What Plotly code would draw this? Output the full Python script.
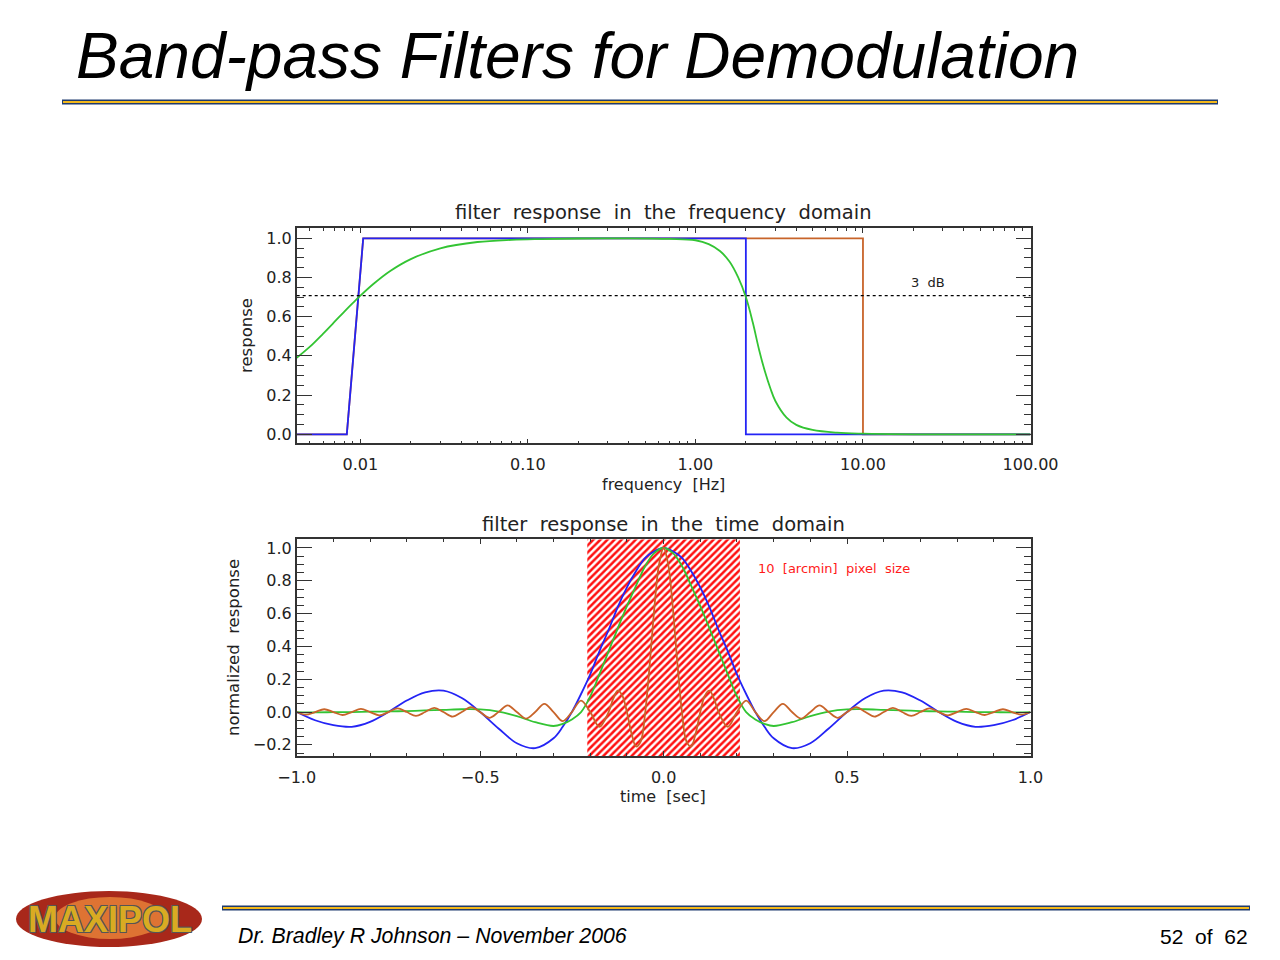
import plotly.graph_objects as go

W, H = 1280, 960

# ---------------- data: frequency domain ----------------
freq_blue = [0.00417, 0.0083, 0.0104, 2.0, 2.0, 100.0]
resp_blue = [0.0, 0.0, 1.0, 1.0, 0.0, 0.0]

freq_orange = [0.00417, 0.0083, 0.0104, 10.0, 10.0, 100.0]
resp_orange = [0.0, 0.0, 1.0, 1.0, 0.0, 0.0]

freq_green = [0.00417, 0.005, 0.006, 0.007, 0.008, 0.009, 0.01, 0.012, 0.015, 0.02,
              0.03, 0.05, 0.08, 0.12, 0.2, 0.4, 0.7, 1.0, 1.2, 1.4, 1.6, 1.8,
              2.0, 2.2, 2.4, 2.6, 2.8, 3.0, 3.5, 4.0, 5.0, 7.0, 10.0, 20.0, 100.0]
resp_green = [0.39, 0.447, 0.514, 0.573, 0.625, 0.669, 0.707, 0.768, 0.832, 0.894,
              0.949, 0.981, 0.992, 0.996, 0.999, 1.0, 0.997, 0.99, 0.97, 0.935, 0.88, 0.80,
              0.70, 0.57, 0.43, 0.32, 0.235, 0.17, 0.085, 0.048, 0.022, 0.008, 0.003, 0.0, 0.0]

level_3db = 0.707

freq_tickvals = [0.01, 0.1, 1, 10, 100]
freq_ticktext = ["0.01", "0.10", "1.00", "10.00", "100.00"]
freq_minor = [0.005, 0.006, 0.007, 0.008, 0.009,
              0.02, 0.03, 0.04, 0.05, 0.06, 0.07, 0.08, 0.09,
              0.2, 0.3, 0.4, 0.5, 0.6, 0.7, 0.8, 0.9,
              2, 3, 4, 5, 6, 7, 8, 9,
              20, 30, 40, 50, 60, 70, 80, 90]

# ---------------- data: time domain ----------------
time_bg = [-1.0, -0.95, -0.9, -0.85, -0.8, -0.75, -0.7, -0.65, -0.6, -0.55, -0.5,
           -0.45, -0.4, -0.35, -0.3, -0.275, -0.25, -0.225, -0.2, -0.175, -0.15,
           -0.125, -0.1, -0.075, -0.05, -0.025, 0.0, 0.025, 0.05, 0.075, 0.1,
           0.125, 0.15, 0.175, 0.2, 0.225, 0.25, 0.275, 0.3, 0.35, 0.4, 0.45,
           0.5, 0.55, 0.6, 0.65, 0.7, 0.75, 0.8, 0.85, 0.9, 0.95, 1.0]
blue_t = [0.0, -0.05, -0.08, -0.09, -0.06, 0.0, 0.07, 0.12, 0.13, 0.085, 0.0,
          -0.10, -0.19, -0.22, -0.16, -0.09, 0.0, 0.11, 0.23, 0.37, 0.50,
          0.64, 0.76, 0.86, 0.94, 0.98, 1.0, 0.98, 0.94, 0.86, 0.76,
          0.64, 0.50, 0.37, 0.23, 0.11, 0.0, -0.09, -0.16, -0.22, -0.19, -0.10,
          0.0, 0.085, 0.13, 0.12, 0.07, 0.0, -0.06, -0.09, -0.08, -0.05, 0.0]
green_t = [0.0, -0.002, -0.001, 0.0, 0.002, 0.004, 0.006, 0.01, 0.013, 0.017, 0.016,
           0.003, -0.025, -0.062, -0.085, -0.072, -0.045, 0.0, 0.095, 0.23, 0.37,
           0.51, 0.645, 0.77, 0.89, 0.97, 1.0, 0.97, 0.89, 0.77, 0.645,
           0.51, 0.37, 0.23, 0.095, 0.0, -0.045, -0.072, -0.085, -0.062, -0.025, 0.003,
           0.016, 0.017, 0.013, 0.01, 0.006, 0.004, 0.002, 0.0, -0.001, -0.002, 0.0]

time_or = [-1.0, -0.975, -0.95, -0.925, -0.9, -0.875, -0.85, -0.825, -0.8, -0.775,
           -0.75, -0.725, -0.7, -0.675, -0.65, -0.625, -0.6, -0.575, -0.55, -0.525,
           -0.5, -0.475, -0.45, -0.425, -0.4, -0.375, -0.35, -0.325, -0.3, -0.275,
           -0.25, -0.225, -0.2, -0.175, -0.15, -0.1375, -0.125, -0.1125, -0.1,
           -0.0875, -0.075, -0.0625, -0.05, -0.0375, -0.025, -0.0125, 0.0,
           0.0125, 0.025, 0.0375, 0.05, 0.0625, 0.075, 0.0875, 0.1, 0.1125, 0.125,
           0.1375, 0.15, 0.175, 0.2, 0.225, 0.25, 0.275, 0.3, 0.325, 0.35, 0.375,
           0.4, 0.425, 0.45, 0.475, 0.5, 0.525, 0.55, 0.575, 0.6, 0.625, 0.65,
           0.675, 0.7, 0.725, 0.75, 0.775, 0.8, 0.825, 0.85, 0.875, 0.9, 0.925,
           0.95, 0.975, 1.0]
orange_t = [0.0, -0.016, 0.0, 0.017, 0.0, -0.018, 0.0, 0.019, 0.0, -0.02,
            0.0, 0.022, 0.0, -0.024, 0.0, 0.025, 0.0, -0.028, 0.0, 0.03,
            0.0, -0.035, 0.0, 0.04, 0.0, -0.04, 0.0, 0.05, 0.0, -0.055,
            0.0, 0.07, 0.0, -0.09, 0.0, 0.08, 0.13, 0.10, 0.0,
            -0.13, -0.21, -0.18, 0.0, 0.30, 0.64, 0.90, 1.0,
            0.90, 0.64, 0.30, 0.0, -0.18, -0.21, -0.13, 0.0, 0.10, 0.13,
            0.08, 0.0, -0.09, 0.0, 0.07, 0.0, -0.055, 0.0, 0.05, 0.0, -0.04,
            0.0, 0.04, 0.0, -0.035, 0.0, 0.03, 0.0, -0.028, 0.0, 0.025, 0.0,
            -0.024, 0.0, 0.022, 0.0, -0.02, 0.0, 0.019, 0.0, -0.018, 0.0, 0.017,
            0.0, -0.016, 0.0]

pixel_window = [-0.208, 0.208]   # 10 arcmin pixel size [sec]

freq_range = [-2.38, 2.0]          # log10
resp_range = [-0.046, 1.054]
time_range = [-1.0, 1.0]
nresp_range = [-0.268, 1.053]

# ---------------- style ----------------
C_BLUE = "#2424f5"
C_GREEN = "#33c433"
C_ORANGE = "#c8642a"
AX = "#333333"
TXT = "#222222"
FONT = "DejaVu Sans"
LW = 1.8


def px(x):
    return x / W


def py(y):
    return 1 - y / H


fig = go.Figure()

# --- top panel traces
fig.add_trace(go.Scatter(x=freq_orange, y=resp_orange, mode="lines", cliponaxis=False,
                         line=dict(color=C_ORANGE, width=LW), xaxis="x", yaxis="y"))
fig.add_trace(go.Scatter(x=freq_blue, y=resp_blue, mode="lines", cliponaxis=False,
                         line=dict(color=C_BLUE, width=LW), xaxis="x", yaxis="y"))
fig.add_trace(go.Scatter(x=freq_green, y=resp_green, mode="lines",
                         line=dict(color=C_GREEN, width=LW, shape="spline", smoothing=1.0),
                         xaxis="x", yaxis="y"))

# --- bottom panel traces
fig.add_trace(go.Scatter(
    x=[pixel_window[0], pixel_window[1], pixel_window[1], pixel_window[0], pixel_window[0]],
    y=[nresp_range[0], nresp_range[0], nresp_range[1], nresp_range[1], nresp_range[0]],
    mode="lines", line=dict(width=0), fill="toself", fillcolor="white",
    fillpattern=dict(shape="/", fgcolor="#ff1010", bgcolor="white", fgopacity=1,
                     fillmode="replace", size=5, solidity=0.5),
    xaxis="x2", yaxis="y2"))
fig.add_trace(go.Scatter(x=time_bg, y=blue_t, mode="lines",
                         line=dict(color=C_BLUE, width=LW, shape="spline", smoothing=1.0),
                         xaxis="x2", yaxis="y2"))
fig.add_trace(go.Scatter(x=time_bg, y=green_t, mode="lines",
                         line=dict(color=C_GREEN, width=LW, shape="spline", smoothing=1.0),
                         xaxis="x2", yaxis="y2"))
fig.add_trace(go.Scatter(x=time_or, y=orange_t, mode="lines",
                         line=dict(color=C_ORANGE, width=LW, shape="spline", smoothing=1.0),
                         xaxis="x2", yaxis="y2"))

dom_x = [px(296.7), px(1030.5)]
common = dict(showline=True, linecolor=AX, linewidth=1.6, mirror="ticks",
              ticks="inside", tickcolor=AX, showgrid=False, zeroline=False,
              automargin=False,
              tickfont=dict(family=FONT, size=16, color=TXT))

fig.update_layout(
    width=W, height=H, margin=dict(l=0, r=0, t=0, b=0, pad=0, autoexpand=False),
    autosize=False,
    paper_bgcolor="white", plot_bgcolor="white", showlegend=False,
    xaxis=dict(domain=dom_x, anchor="y", type="log", range=freq_range,
               tickvals=freq_tickvals, ticktext=freq_ticktext, ticklen=5, tickwidth=1.2,
               ticklabelstandoff=6,
               minor=dict(tickvals=freq_minor, ticks="inside", ticklen=3, tickcolor=AX),
               **common),
    yaxis=dict(domain=[py(443.3), py(227.7)], anchor="x", range=resp_range,
               tick0=0, dtick=0.2, tickformat=".1f", ticklen=15, tickwidth=1.2,
               minor=dict(dtick=0.05, ticks="inside", ticklen=7, tickcolor=AX),
               **common),
    xaxis2=dict(domain=dom_x, anchor="y2", range=time_range,
                tick0=0, dtick=0.5, tickformat=".1f", ticklen=5, tickwidth=1.2,
                ticklabelstandoff=6,
                minor=dict(dtick=0.1, ticks="inside", ticklen=3, tickcolor=AX),
                **common),
    yaxis2=dict(domain=[py(756), py(539.3)], anchor="x2", range=nresp_range,
                tick0=0, dtick=0.2, tickformat=".1f", ticklen=15, tickwidth=1.2,
                minor=dict(dtick=0.05, ticks="inside", ticklen=7, tickcolor=AX),
                **common),
)

shapes = [
    # 3 dB dotted line
    dict(type="line", xref="x domain", x0=0, x1=1, yref="y", y0=level_3db, y1=level_3db,
         line=dict(color="black", width=1.3, dash="dot")),
    # title rule
    dict(type="line", xref="paper", yref="paper", x0=px(62), x1=px(1218), y0=py(102), y1=py(102),
         line=dict(color="#1f3b6e", width=5)),
    dict(type="line", xref="paper", yref="paper", x0=px(63), x1=px(1217), y0=py(102), y1=py(102),
         line=dict(color="#f3b81a", width=2)),
    # footer rule
    dict(type="line", xref="paper", yref="paper", x0=px(222), x1=px(1250), y0=py(908), y1=py(908),
         line=dict(color="#1f3b6e", width=5)),
    dict(type="line", xref="paper", yref="paper", x0=px(223), x1=px(1249), y0=py(908), y1=py(908),
         line=dict(color="#f3b81a", width=2)),
    # logo ellipse
    dict(type="circle", xref="paper", yref="paper", x0=px(16), x1=px(202), y0=py(947), y1=py(891),
         fillcolor="#a8281a", line=dict(width=0)),
    dict(type="circle", xref="paper", yref="paper", x0=px(55), x1=px(165), y0=py(939), y1=py(897),
         fillcolor="rgba(240,140,60,0.75)", line=dict(width=0)),
]
fig.update_layout(shapes=shapes)

ann = [
    dict(text="Band-pass Filters for Demodulation", xref="paper", yref="paper",
         x=px(74), y=py(56), xanchor="left", yanchor="middle", showarrow=False,
         font=dict(family="Liberation Sans, Arial", size=64, color="black", style="italic")),
    dict(text="filter  response  in  the  frequency  domain", xref="paper", yref="paper",
         x=px(663), y=py(212), xanchor="center", yanchor="middle", showarrow=False,
         font=dict(family=FONT, size=19.5, color=TXT)),
    dict(text="frequency  [Hz]", xref="paper", yref="paper",
         x=px(663), y=py(484), xanchor="center", yanchor="middle", showarrow=False,
         font=dict(family=FONT, size=16, color=TXT)),
    dict(text="response", xref="paper", yref="paper", textangle=-90,
         x=px(246), y=py(336), xanchor="center", yanchor="middle", showarrow=False,
         font=dict(family=FONT, size=16.5, color=TXT)),
    dict(text="3  dB", xref="x", yref="y", x=1.389, y=0.772,
         xanchor="center", yanchor="middle", showarrow=False,
         font=dict(family=FONT, size=13, color=TXT)),
    dict(text="filter  response  in  the  time  domain", xref="paper", yref="paper",
         x=px(663), y=py(524), xanchor="center", yanchor="middle", showarrow=False,
         font=dict(family=FONT, size=19.5, color=TXT)),
    dict(text="time  [sec]", xref="paper", yref="paper",
         x=px(663), y=py(796), xanchor="center", yanchor="middle", showarrow=False,
         font=dict(family=FONT, size=16, color=TXT)),
    dict(text="normalized  response", xref="paper", yref="paper", textangle=-90,
         x=px(233), y=py(648), xanchor="center", yanchor="middle", showarrow=False,
         font=dict(family=FONT, size=16.5, color=TXT)),
    dict(text="10  [arcmin]  pixel  size", xref="x2", yref="y2", x=0.251, y=0.878,
         xanchor="left", yanchor="middle", showarrow=False,
         font=dict(family=FONT, size=13, color="#ff1a1a")),
    dict(text="Dr. Bradley R Johnson \u2013 November 2006", xref="paper", yref="paper",
         x=px(236), y=py(936), xanchor="left", yanchor="middle", showarrow=False,
         font=dict(family="Liberation Sans, Arial", size=21.3, color="black", style="italic")),
    dict(text="52\u00a0\u00a0of\u00a0\u00a062", xref="paper", yref="paper",
         x=px(1250), y=py(936), xanchor="right", yanchor="middle", showarrow=False,
         font=dict(family="Liberation Sans, Arial", size=21, color="black")),
    dict(text="<b>MAXIPOL</b>", xref="paper", yref="paper",
         x=px(110), y=py(919), xanchor="center", yanchor="middle", showarrow=False,
         font=dict(family="Liberation Sans, Arial", size=36, color="#d9ab22",
                   shadow="-1px -1px 0 #555, 1px 1px 0 #555, 1px -1px 0 #555, -1px 1px 0 #555")),
]
fig.update_layout(annotations=ann)

fig.write_html("out.html", config={"displayModeBar": False},
               post_script="document.body.style.margin='0';")
